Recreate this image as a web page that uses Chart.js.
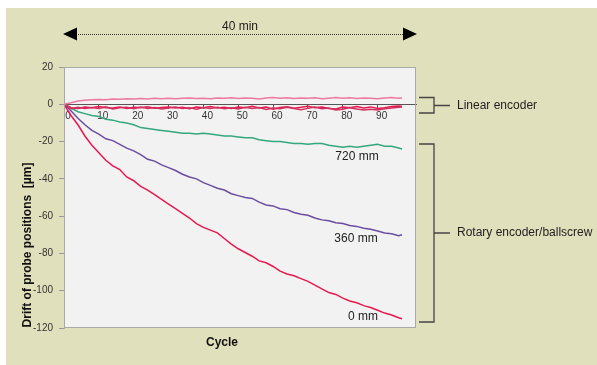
<!DOCTYPE html>
<html>
<head>
<meta charset="utf-8">
<script src="https://cdn.jsdelivr.net/npm/chart.js@4/dist/chart.umd.min.js"></script>
<style>
html,body{margin:0;padding:0;background:#fff;}
canvas{display:block;}
</style>
</head>
<body>
<canvas id="c" width="597" height="365"></canvas>
<script>
// Cycle numbers
const cycles = [0,2,4,6,8,10,12,14,16,18,20,22,24,26,28,30,32,34,36,38,40,42,44,46,48,50,52,54,56,58,60,62,64,66,68,70,72,74,76,78,80,82,84,86,88,90,92,94,96,97];
// Linear encoder (upper pink trace)
const linearA = [0,0.8,1.8,2.2,2.4,2.6,2.5,2.8,2.7,3.0,2.8,3.1,2.9,3.2,3.0,3.3,3.0,3.2,3.4,3.1,3.3,3.0,3.4,3.2,3.5,3.1,3.4,3.3,2.9,3.4,3.6,3.2,3.5,3.1,3.4,3.2,3.5,3.0,3.3,3.6,3.2,3.5,3.1,3.4,3.2,3.0,3.4,3.6,3.2,3.4];
// Linear encoder (lower red traces)
const linearB = [0,-1.8,-2.2,-1.5,-1.9,-1.2,-1.8,-2.0,-1.4,-2.3,-1.6,-1.9,-1.3,-2.1,-1.7,-1.4,-2.0,-1.6,-2.4,-1.5,-1.9,-1.2,-2.0,-1.6,-2.2,-1.4,-1.8,-1.1,-2.0,-1.5,-2.6,-1.7,-1.3,-2.1,-1.6,-1.0,-1.9,-1.4,-2.2,-2.5,-1.5,-1.9,-1.2,-2.0,-1.4,-2.3,-1.8,-1.2,-0.9,-1.0];
const linearC = [0,-2.4,-1.6,-2.3,-1.7,-2.2,-1.4,-2.5,-1.9,-1.6,-2.4,-1.5,-2.2,-1.7,-2.5,-2.0,-1.5,-2.3,-1.8,-2.6,-1.7,-2.3,-1.6,-2.4,-1.9,-2.5,-1.6,-2.2,-1.7,-2.8,-2.0,-2.4,-1.6,-2.3,-2.9,-2.2,-1.5,-2.4,-2.0,-3.0,-2.7,-1.8,-2.5,-3.1,-2.6,-3.0,-2.4,-2.0,-1.6,-1.4];
// Rotary encoder / ballscrew
const rot720 = [0,-2,-4,-5,-6,-6.5,-8,-8.5,-9.5,-10,-11,-12.5,-13,-13.5,-14,-14.5,-15,-15.5,-15.5,-16,-15.5,-16,-16.5,-17,-17,-17.5,-18,-18,-19,-19.5,-20,-20,-20.5,-21,-21,-21.5,-21,-21,-22,-22.5,-23,-22.5,-23,-22.5,-22,-21.5,-22.5,-22.5,-23.5,-24];
const rot360 = [0,-3.5,-7.5,-11,-14,-16,-18.5,-19.5,-21.5,-23.5,-25,-27,-29.5,-30.5,-32.5,-34,-35.5,-37.5,-39,-40,-42,-43.5,-45,-46,-48,-49,-50,-50.5,-52.5,-54,-54.5,-56,-56.5,-58,-59,-59.5,-61,-62,-62.5,-63.5,-64,-65,-65.5,-66.5,-67,-68,-69,-69.5,-70.5,-70];
const rot0 = [0,-6,-11,-17,-22,-26,-30,-33,-35,-39,-41,-44,-46,-48.5,-51,-53.5,-56,-58.5,-61,-64,-66,-67.5,-69,-72,-75,-77.5,-79.5,-81.5,-84,-85,-87,-89.5,-91,-92,-93.5,-95,-97,-99,-101,-102,-104,-105.5,-106.5,-108,-109,-110.5,-112,-113,-114.5,-115];
// Axis ticks
const yTicks = [-120,-100,-80,-60,-40,-20,0,20];
const xTicks = [0,10,20,30,40,50,60,70,80,90];

const FONT = '"Liberation Sans", Arial, sans-serif';

function series(vals){ return cycles.map((c,i)=>({x:c,y:vals[i]})); }
function ds(vals,color,w){
  return {data:series(vals),borderColor:color,borderWidth:w||1.5,pointRadius:0,tension:0,fill:false};
}

const deco = {
  id:'deco',
  beforeDraw(chart){
    const c = chart.ctx, a = chart.chartArea;
    c.save();
    c.fillStyle = '#fff';
    c.fillRect(0,0,chart.width,chart.height);
    c.fillStyle = '#e0e0bc';
    c.fillRect(6,8,chart.width-6,chart.height-8);
    c.fillStyle = '#f2f2f2';
    c.fillRect(a.left,a.top,a.right-a.left,a.bottom-a.top);
    c.restore();
  },
  afterDraw(chart){
    const c = chart.ctx, a = chart.chartArea;
    const ys = chart.scales.y, xs = chart.scales.x;
    c.save();
    // plot border
    c.strokeStyle = '#a8a8a8';
    c.lineWidth = 1;
    c.strokeRect(a.left+0.5,a.top+0.5,a.right-a.left-1,a.bottom-a.top-1);
    // 40 min arrow
    const ay = 34;
    c.strokeStyle = '#333';
    c.setLineDash([1,1]);
    c.beginPath(); c.moveTo(76,ay+0.5); c.lineTo(404,ay+0.5); c.stroke();
    c.setLineDash([]);
    c.fillStyle = '#000';
    c.beginPath(); c.moveTo(63,ay); c.lineTo(77,ay-6.5); c.lineTo(77,ay+6.5); c.closePath(); c.fill();
    c.beginPath(); c.moveTo(417,ay); c.lineTo(403,ay-6.5); c.lineTo(403,ay+6.5); c.closePath(); c.fill();
    c.fillStyle = '#222';
    c.font = '12px ' + FONT;
    c.textAlign = 'center'; c.textBaseline = 'middle';
    c.fillText('40 min', 240, 27);
    // brackets
    c.strokeStyle = '#444';
    c.lineWidth = 1.3;
    function bracket(y1,y2,ym){
      c.beginPath();
      c.moveTo(419,y1); c.lineTo(434,y1); c.lineTo(434,y2); c.lineTo(419,y2);
      c.moveTo(434,ym); c.lineTo(450,ym);
      c.stroke();
    }
    bracket(97.5,113,105.5);
    bracket(144,322,233);
    c.fillStyle = '#222';
    c.textAlign = 'left';
    c.fillText('Linear encoder', 457, 106);
    c.fillText('Rotary encoder/ballscrew', 457, 233);
    // series labels
    c.textAlign = 'center';
    c.fillText('720 mm', 357, 157);
    c.fillText('360 mm', 356, 239);
    c.fillText('0 mm', 363, 317);
    // axis titles
    c.font = 'bold 12px ' + FONT;
    c.fillStyle = '#111';
    c.fillText('Cycle', 222, 343);
    c.translate(28,245);
    c.rotate(-Math.PI/2);
    c.fillText('Drift of probe positions  [\u00b5m]', 0, 0);
    c.restore();
  }
};

new Chart(document.getElementById('c'), {
  type:'line',
  data:{datasets:[
    ds(linearA,'#ec7aa0',1.5),
    ds(linearC,'#d2305e',1.5),
    ds(linearB,'#e8184e',1.5),
    ds(rot720,'#34a77c',1.5),
    ds(rot360,'#6a4d9e',1.5),
    ds(rot0,'#e5194f',1.5)
  ]},
  options:{
    responsive:false,
    animation:false,
    layout:{padding:{left:0,top:67,right:181,bottom:37}},
    plugins:{legend:{display:false},tooltip:{enabled:false}},
    scales:{
      x:{
        type:'linear', min:0, max:101, position:{y:0},
        afterBuildTicks(s){ s.ticks = xTicks.map(v=>({value:v})); },
        ticks:{labelOffset:4,padding:2,color:'#333',font:{size:10,family:FONT},maxRotation:0,autoSkip:false},
        grid:{drawOnChartArea:false,tickLength:4,color:'#555'},
        border:{color:'#555',width:1}
      },
      y:{
        min:-120, max:20,
        afterFit(s){ s.width = 64; },
        afterBuildTicks(s){ s.ticks = yTicks.map(v=>({value:v})); },
        ticks:{padding:6,color:'#333',font:{size:10,family:FONT}},
        grid:{drawOnChartArea:false,tickLength:5,color:'#999'},
        border:{color:'#a8a8a8'}
      }
    }
  },
  plugins:[deco]
});
</script>
</body>
</html>
